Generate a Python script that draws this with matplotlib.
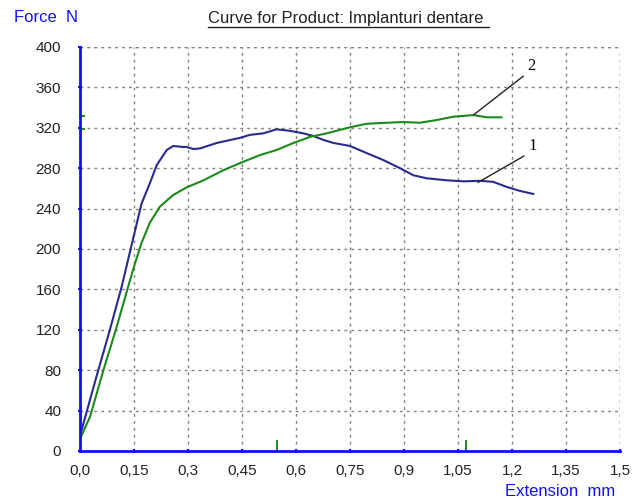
import matplotlib
matplotlib.use("Agg")
import matplotlib.pyplot as plt
from matplotlib.lines import Line2D

plt.rcParams['font.family'] = ['Liberation Sans', 'DejaVu Sans']

# curve 1 (blue): extension mm, force N
ext_1 = [0.0, 0.046, 0.083, 0.116, 0.142, 0.171, 0.194, 0.213, 0.241, 0.259,
         0.287, 0.296, 0.315, 0.333, 0.38, 0.444, 0.472, 0.509, 0.546, 0.583,
         0.62, 0.648, 0.676, 0.704, 0.75, 0.796, 0.843, 0.889, 0.926, 0.963,
         1.019, 1.065, 1.111, 1.148, 1.185, 1.222, 1.259]
force_1 = [15, 74, 120, 163, 202, 245, 265, 283, 298, 302,
           301, 301, 299, 299.5, 305, 310, 313, 314.5, 318.5, 317,
           314.5, 312, 308, 305, 302, 295, 288, 280, 273, 270,
           268, 267, 267.5, 266.5, 261.5, 257.5, 254.5]

# curve 2 (green)
ext_2 = [0.0, 0.028, 0.065, 0.102, 0.134, 0.153, 0.171, 0.194, 0.222, 0.259,
         0.296, 0.343, 0.398, 0.444, 0.5, 0.546, 0.593, 0.639, 0.685, 0.75,
         0.796, 0.852, 0.898, 0.944, 0.991, 1.037, 1.093, 1.13, 1.171]
force_2 = [12, 34, 80, 123, 163, 186, 206, 226, 242, 253.5,
           261, 268, 278, 285, 293, 298, 305, 311, 314.5, 320.5,
           324, 325, 325.7, 325, 327.7, 331, 332.6, 330.4, 330.4]

# small green marks at the maxima
max_ext = [0.546, 1.072]
max_force = [319, 332]

# labels of the curves: (text, point on curve, label position)
curve_labels = ["1", "2"]
label_from = [(1.106, 266), (1.094, 333)]
label_to = [(1.233, 292), (1.231, 371)]

x_ticks = [0.0, 0.15, 0.3, 0.45, 0.6, 0.75, 0.9, 1.05, 1.2, 1.35, 1.5]
x_tick_labels = ["0,0", "0,15", "0,3", "0,45", "0,6", "0,75", "0,9", "1,05", "1,2", "1,35", "1,5"]
y_ticks = [0, 40, 80, 120, 160, 200, 240, 280, 320, 360, 400]

blue_axis = "#1010ff"
c1 = "#2a2a90"
c2 = "#1b8a1b"

fig = plt.figure(figsize=(6.36, 4.99), dpi=100)
ax = fig.add_axes([80 / 636, 1 - 451 / 499, 540 / 636, 404 / 499])

ax.plot(ext_1, force_1, color=c1, lw=1.5)
ax.plot(ext_2, force_2, color=c2, lw=1.5)

# maxima marks on the axes
for xm in max_ext:
    ax.plot([xm, xm], [0, 10], color=c2, lw=1.4, clip_on=False)
for ym in max_force:
    ax.plot([0, 0.012], [ym, ym], color=c2, lw=1.4, clip_on=False)

for txt, p0, p1 in zip(curve_labels, label_from, label_to):
    ax.plot([p0[0], p1[0]], [p0[1], p1[1]], color="#222222", lw=1.0)
    ax.text(p1[0] + 0.012, p1[1] + 2, txt, fontsize=12, family=['Liberation Serif'],
            ha="left", va="bottom")

ax.set_xlim(0, 1.5)
ax.set_ylim(0, 400)
ax.set_xticks(x_ticks)
ax.set_xticklabels(x_tick_labels)
ax.set_yticks(y_ticks)

ax.grid(True, color="#808080", linestyle=(0, (2, 3)), lw=1.0)
ax.axhline(400, color="#808080", linestyle=(0, (2, 3)), lw=1.0)
ax.axvline(1.5, color="#808080", linestyle=(0, (2, 3)), lw=1.0)

for s in ["top", "right"]:
    ax.spines[s].set_visible(False)
for s in ["left", "bottom"]:
    ax.spines[s].set_color(blue_axis)
    ax.spines[s].set_linewidth(2)

ax.tick_params(axis="both", colors=blue_axis, labelcolor="#222222", labelsize=11,
               length=3, width=1.5, direction="inout")
ax.tick_params(axis="x", pad=8)
ax.tick_params(axis="y", pad=12)

fig.text(14 / 636, 1 - 18 / 499, "Force  N", color=blue_axis, fontsize=12,
         ha="left", va="center")
fig.text(615 / 636, 1 - 491 / 499, "Extension  mm", color=blue_axis, fontsize=12,
         ha="right", va="center")

title = fig.text(346 / 636, 1 - 18 / 499, "Curve for Product: Implanturi dentare",
                 color="#222222", fontsize=12, ha="center", va="center")
fig.canvas.draw()
bb = title.get_window_extent(renderer=fig.canvas.get_renderer())
bb = bb.transformed(fig.transFigure.inverted())
fig.add_artist(Line2D([bb.x0, bb.x1 + 0.009], [bb.y0 - 0.004, bb.y0 - 0.004],
                      transform=fig.transFigure, color="#222222", lw=1.0))

fig.savefig("out.png", dpi=100)
